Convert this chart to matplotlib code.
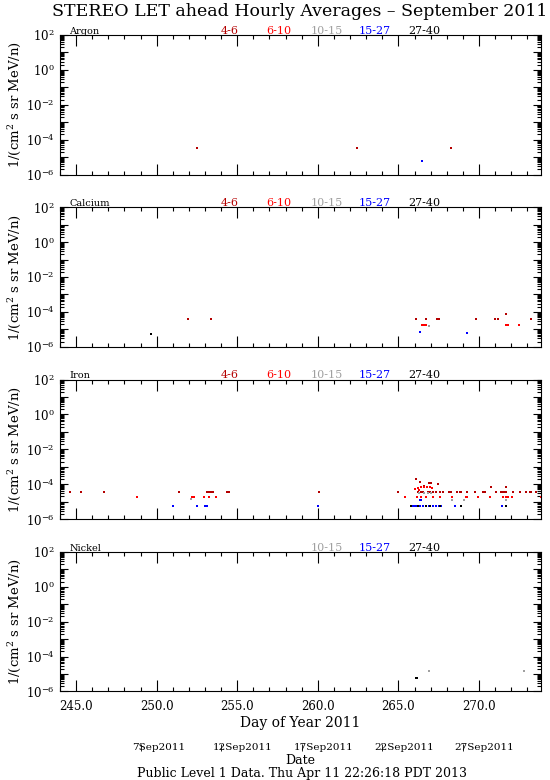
import matplotlib
matplotlib.use('Agg')
import math
import matplotlib.pyplot as plt
from matplotlib.ticker import LogLocator, MultipleLocator, FuncFormatter, NullFormatter

plt.rcParams['font.family'] = ['DejaVu Serif']
plt.rcParams['mathtext.fontset'] = 'dejavuserif'

#Energy channels (MeV/n) and their colours
channels = ['4-6', '6-10', '10-15', '15-27', '27-40']
channel_colors = ['#b40000', '#ff0000', '#a0a0a0', '#0000ff', '#000000']

#Argon
ar_46_doy = [252.49, 262.41, 268.26]
ar_46_flux = [3.4e-5, 3.4e-5, 3.4e-5]
ar_1527_doy = [266.48]
ar_1527_flux = [6.0e-6]

#Calcium
ca_46_doy = [251.93, 253.37, 266.12, 266.74, 267.42, 267.52, 269.84, 270.98, 271.20, 271.70, 273.23]
ca_46_flux = [3.8e-5, 3.8e-5, 4.1e-5, 3.8e-5, 3.8e-5, 3.8e-5, 3.8e-5, 3.8e-5, 3.8e-5, 7.3e-5, 3.8e-5]
ca_610_doy = [266.45, 266.57, 266.74, 271.70, 271.78, 272.48]
ca_610_flux = [1.9e-5, 1.9e-5, 1.9e-5, 1.9e-5, 1.9e-5, 1.8e-5]
ca_1015_doy = [266.90]
ca_1015_flux = [1.5e-5]
ca_1527_doy = [266.35, 269.26]
ca_1527_flux = [7.0e-6, 6.2e-6]
ca_2740_doy = [249.64]
ca_2740_flux = [5.5e-6]

#Iron
fe_46_doy = [244.59, 245.28, 246.74, 251.36, 253.10, 253.20, 253.30, 253.40, 253.50, 254.35,
             254.46, 260.08, 264.95, 266.22, 266.43, 266.53, 266.84, 266.95, 267.15, 267.36,
             267.57, 267.77, 268.12, 268.29, 268.66, 268.81, 268.91, 269.26, 269.78, 270.25,
             270.36, 271.08, 271.39, 271.49, 271.60, 271.70, 272.11, 272.53, 272.94, 273.15,
             273.25, 273.56, 273.91,
             266.12, 266.33, 266.56, 266.93, 267.05, 267.46, 270.73, 271.70]
fe_46_flux = [3.5e-5, 3.5e-5, 3.5e-5, 3.5e-5, 3.5e-5, 3.5e-5, 3.5e-5, 3.5e-5, 3.5e-5, 3.5e-5,
              3.5e-5, 3.5e-5, 3.5e-5, 3.5e-5, 3.5e-5, 3.5e-5, 3.5e-5, 3.5e-5, 3.5e-5, 3.5e-5,
              3.5e-5, 3.5e-5, 3.5e-5, 3.5e-5, 3.5e-5, 3.5e-5, 3.5e-5, 3.5e-5, 3.5e-5, 3.5e-5,
              3.5e-5, 3.5e-5, 3.5e-5, 3.5e-5, 3.5e-5, 3.5e-5, 3.5e-5, 3.5e-5, 3.5e-5, 3.5e-5,
              3.5e-5, 3.5e-5, 3.5e-5,
              2.1e-4, 1.3e-4, 8.0e-5, 1.15e-4, 1.15e-4, 1.1e-4, 7.4e-5, 7.4e-5]
fe_610_doy = [248.77, 252.19, 252.30, 252.95, 253.24, 253.69, 265.40, 266.16, 266.43, 266.74,
              267.15, 267.57, 268.35, 269.18, 269.26, 269.94, 270.67, 271.49, 271.66, 271.80,
              272.07, 273.83,
              266.02, 266.20, 266.30, 266.40, 266.62, 266.80, 266.99, 267.10]
fe_610_flux = [1.8e-5, 1.8e-5, 1.8e-5, 1.8e-5, 1.8e-5, 1.8e-5, 1.8e-5, 1.8e-5, 1.8e-5, 1.8e-5,
               1.8e-5, 1.8e-5, 1.8e-5, 1.8e-5, 1.8e-5, 1.8e-5, 1.8e-5, 1.8e-5, 1.8e-5, 1.8e-5,
               1.8e-5, 1.8e-5,
               5.0e-5, 6.0e-5, 4.5e-5, 7.0e-5, 7.0e-5, 6.5e-5, 7.0e-5, 6.0e-5]
fe_1015_doy = [252.10, 266.30, 266.56, 266.84, 267.05, 268.35, 269.07, 271.66]
fe_1015_flux = [1.4e-5, 3.0e-5, 3.0e-5, 3.0e-5, 3.2e-5, 1.2e-5, 1.2e-5, 1.2e-5]
fe_1527_doy = [251.03, 252.52, 253.02, 253.10, 260.00, 265.77, 265.91, 266.02, 266.12, 266.37,
               266.53, 266.74, 266.90, 267.15, 267.36, 267.52, 267.67, 268.50, 271.45,
               266.33, 266.40]
fe_1527_flux = [5.9e-6, 5.9e-6, 5.9e-6, 5.9e-6, 5.9e-6, 5.9e-6, 5.9e-6, 5.9e-6, 5.9e-6, 5.9e-6,
                5.9e-6, 5.9e-6, 5.9e-6, 5.9e-6, 5.9e-6, 5.9e-6, 5.9e-6, 5.9e-6, 5.9e-6,
                1.2e-5, 1.2e-5]
fe_2740_doy = [265.81, 266.22, 266.74, 266.99, 267.61, 268.91, 271.66]
fe_2740_flux = [5.5e-6, 5.5e-6, 5.5e-6, 5.5e-6, 5.5e-6, 5.5e-6, 5.5e-6]

#Nickel
ni_1015_doy = [266.90, 272.82]
ni_1015_flux = [1.5e-5, 1.4e-5]
ni_2740_doy = [266.08, 266.18]
ni_2740_flux = [5.8e-6, 5.5e-6]

#Date axis
date_doy = [249, 254, 259, 264, 269]
date_labels = ['7Sep2011', '12Sep2011', '17Sep2011', '22Sep2011', '27Sep2011']

panels = [
    ('Argon', [0, 1, 2, 3, 4], {0: (ar_46_doy, ar_46_flux), 3: (ar_1527_doy, ar_1527_flux)}),
    ('Calcium', [0, 1, 2, 3, 4], {0: (ca_46_doy, ca_46_flux), 1: (ca_610_doy, ca_610_flux),
                                  2: (ca_1015_doy, ca_1015_flux), 3: (ca_1527_doy, ca_1527_flux),
                                  4: (ca_2740_doy, ca_2740_flux)}),
    ('Iron', [0, 1, 2, 3, 4], {0: (fe_46_doy, fe_46_flux), 1: (fe_610_doy, fe_610_flux),
                               2: (fe_1015_doy, fe_1015_flux), 3: (fe_1527_doy, fe_1527_flux),
                               4: (fe_2740_doy, fe_2740_flux)}),
    ('Nickel', [2, 3, 4], {2: (ni_1015_doy, ni_1015_flux), 4: (ni_2740_doy, ni_2740_flux)}),
]

xmin, xmax = 244.0, 273.85
label_x = [0.353, 0.454, 0.555, 0.655, 0.757]

W, H = 550, 780
fig = plt.figure(figsize=(5.5, 7.8), dpi=100)

left_px, right_px = 60, 541
top_px = 35
pitch = 172.3
height_px = 139.5


def decade_label(v, pos):
    #label every other decade only
    e = int(round(math.log10(v)))
    if e % 2:
        return ''
    return r'$10^{%d}$' % e


for i, (name, shown, series) in enumerate(panels):
    top = top_px + i * pitch
    ax = fig.add_axes([left_px / W, 1 - (top + height_px) / H,
                       (right_px - left_px) / W, height_px / H])

    for ch, (x, y) in series.items():
        ax.plot(x, y, 's', ms=1.7, mew=0, color=channel_colors[ch])

    ax.set_yscale('log')
    ax.set_ylim(1e-6, 1e2)
    ax.set_xlim(xmin, xmax)

    ax.xaxis.set_major_locator(MultipleLocator(5))
    ax.xaxis.set_minor_locator(MultipleLocator(1))
    ax.yaxis.set_major_locator(LogLocator(base=10, numticks=20))
    ax.yaxis.set_minor_locator(LogLocator(base=10, subs=range(2, 10), numticks=20))
    ax.yaxis.set_major_formatter(FuncFormatter(decade_label))
    ax.yaxis.set_minor_formatter(NullFormatter())

    ax.tick_params(which='both', direction='in', top=True, right=True, width=0.8)
    ax.tick_params(axis='x', which='major', length=8)
    ax.tick_params(axis='x', which='minor', length=3)
    ax.tick_params(axis='y', which='major', length=6, labelsize=8.5, pad=4)
    ax.tick_params(axis='y', which='minor', length=3)
    for sp in ax.spines.values():
        sp.set_linewidth(0.8)

    ax.set_ylabel('1/(cm$^2$ s sr MeV/n)', fontsize=9.5, labelpad=2)

    if i < len(panels) - 1:
        ax.set_xticklabels([])
    else:
        ax.xaxis.set_major_formatter(FuncFormatter(lambda v, p: '%.1f' % v))
        ax.tick_params(axis='x', labelsize=8.5, pad=6)
        ax.set_xlabel('Day of Year 2011', fontsize=10, labelpad=2)

    #element name and energy channel labels above each panel
    ax.text(0.019, 1.008, name, transform=ax.transAxes, fontsize=7, va='baseline')
    for ch in shown:
        ax.text(label_x[ch], 1.008, channels[ch], transform=ax.transAxes, fontsize=8,
                color=channel_colors[ch], ha='center', va='baseline')

#Date axis below the day of year axis
dax = fig.add_axes([left_px / W, 1 - 752 / H, (right_px - left_px) / W, 9 / H])
dax.set_xlim(xmin, xmax)
dax.set_ylim(0, 1)
dax.axis('off')
dax.vlines(date_doy, 0.1, 0.9, color='black', lw=0.6)
for d, lab in zip(date_doy, date_labels):
    dax.text(d - 0.5, 0.5, lab, fontsize=7.5, ha='left', va='center')

fig.text(300 / W, 1 - 761 / H, 'Date', fontsize=9, ha='center', va='center')
fig.text(302 / W, 1 - 773 / H, 'Public Level 1 Data. Thu Apr 11 22:26:18 PDT 2013',
         fontsize=9, ha='center', va='center')
fig.text(300 / W, 1 - 12 / H, 'STEREO LET ahead Hourly Averages \u2013 September 2011',
         fontsize=12.5, ha='center', va='center')

fig.savefig('out.png', dpi=100)
